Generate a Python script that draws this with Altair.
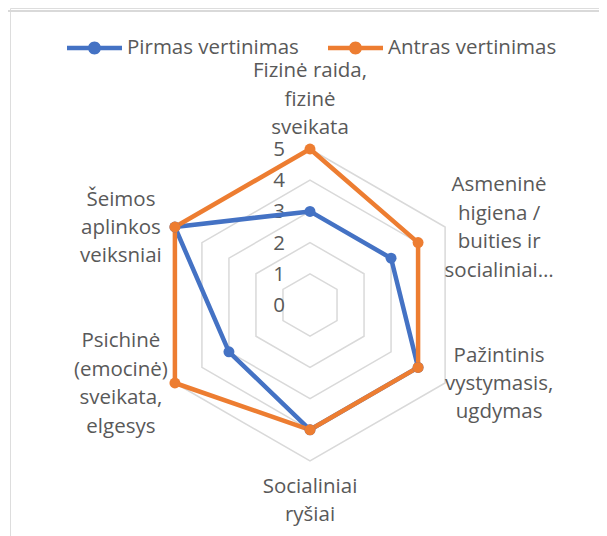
import altair as alt
import pandas as pd

# ---------------- data ----------------
categories = [
    "Fizinė raida,\nfizinė\nsveikata",
    "Asmeninė\nhigiena /\nbuities ir\nsocialiniai…",
    "Pažintinis\nvystymasis,\nugdymas",
    "Socialiniai\nryšiai",
    "Psichinė\n(emocinė)\nsveikata,\nelgesys",
    "Šeimos\naplinkos\nveiksniai",
]
series_names = ["Pirmas vertinimas", "Antras vertinimas"]
pirmas = [3, 3, 4, 4, 3, 5]
antras = [5, 4, 4, 4, 5, 5]
ticks = [0, 1, 2, 3, 4, 5]
colors = ["#4472C4", "#ED7D31"]

# ---------------- style / layout ----------------
FONT = "Open Sans"
FS = 20.5
LH = 28.4
TXT = "#595959"
GRID = "#D9D9D9"
W, H = 589, 528          # view size
CX, CY = 300, 297        # radar centre inside the view (px)
U = 31.2                 # px per value unit
RMAX = max(ticks)

x_dom = [-CX / U, (W - CX) / U]
y_dom = [-(H - CY) / U, CY / U]

n = len(categories)
rows = []
for s, vals in zip(series_names, [pirmas, antras]):
    for i, (c, v) in enumerate(zip(categories, vals)):
        rows.append({"series": s, "idx": i, "category": c, "value": v})
df = pd.DataFrame(rows)

grid_df = pd.DataFrame([{"level": lv, "idx": i} for lv in ticks if lv > 0 for i in range(n)])
lab_df = pd.DataFrame({"idx": list(range(n)), "label": categories})
tick_df = pd.DataFrame({"v": ticks, "t": [str(t) for t in ticks]})
frame_df = pd.DataFrame({"k": [0]})

xs = alt.Scale(domain=x_dom, nice=False, zero=False)
ys = alt.Scale(domain=y_dom, nice=False, zero=False)
X = alt.X("px:Q", scale=xs, axis=None)
Y = alt.Y("py:Q", scale=ys, axis=None)
ANG = f"datum.idx * 2 * PI / {n}"
NL = "(split(datum.label, '\\n').length - 1)"

# grid hexagons
grid = (
    alt.Chart(grid_df)
    .transform_calculate(px=f"datum.level * sin({ANG})", py=f"datum.level * cos({ANG})")
    .mark_line(interpolate="linear-closed", stroke=GRID, strokeWidth=1.5)
    .encode(x=X, y=Y, detail="level:N", order="idx:Q")
)

def series_line(name, color):
    return (
        alt.Chart(df)
        .transform_filter(alt.datum.series == name)
        .transform_calculate(px=f"datum.value * sin({ANG})", py=f"datum.value * cos({ANG})")
        .mark_line(interpolate="linear-closed", stroke=color, strokeWidth=4.5,
                   strokeJoin="round", strokeCap="round")
        .encode(x=X, y=Y, order="idx:Q")
    )

line_p = series_line(series_names[0], colors[0])
line_a = series_line(series_names[1], colors[1])

sym = ("M-1,-0.082 L1,-0.082 L1,0.082 L-1,0.082 Z "
       "M0.236,0 A0.236,0.236 0 1,1 -0.236,0 A0.236,0.236 0 1,1 0.236,0 Z")

points = (
    alt.Chart(df)
    .transform_calculate(px=f"datum.value * sin({ANG})", py=f"datum.value * cos({ANG})")
    .mark_circle(size=120, opacity=1)
    .encode(
        x=X, y=Y,
        color=alt.Color(
            "series:N",
            scale=alt.Scale(domain=series_names, range=colors),
            legend=alt.Legend(
                title=None, orient="none", direction="horizontal",
                legendX=57, legendY=12.5, padding=0,
                symbolType=sym, symbolSize=3025, symbolStrokeWidth=0,
                symbolOpacity=1,
                labelFont=FONT, labelFontSize=FS, labelColor=TXT,
                labelOffset=5, columnPadding=29, labelLimit=400,
            ),
        ),
    )
)

# category labels (first line baseline is placed; block shifted by its line count)
lab_base = alt.Chart(lab_df)
txt_kw = dict(align="center", baseline="alphabetic", lineBreak="\n", lineHeight=LH,
              font=FONT, fontSize=FS, color=TXT)
lab_top = (
    lab_base.transform_filter("datum.idx == 0")
    .transform_calculate(px="0", py=f"{RMAX} + (15 + {NL} * {LH}) / {U}")
    .mark_text(**txt_kw)
    .encode(x=X, y=Y, text="label:N")
)
lab_bot = (
    lab_base.transform_filter(f"datum.idx == {n // 2}")
    .transform_calculate(px="0", py=f"-({RMAX} + 32 / {U})")
    .mark_text(**txt_kw)
    .encode(x=X, y=Y, text="label:N")
)
lab_side = (
    lab_base.transform_filter(f"datum.idx != 0 && datum.idx != {n // 2}")
    .transform_calculate(
        px=f"{RMAX} * sin({ANG}) + (sin({ANG}) > 0 ? 1 : -1) * {54 / U}",
        py=f"{RMAX} * cos({ANG}) + ({NL} * {LH} / 2 - 7) / {U}",
    )
    .mark_text(**txt_kw)
    .encode(x=X, y=Y, text="label:N")
)

tick_lab = (
    alt.Chart(tick_df)
    .transform_calculate(px="0", py="datum.v")
    .mark_text(align="right", baseline="middle", dx=-25, dy=1,
               font=FONT, fontSize=FS, color=TXT)
    .encode(x=X, y=Y, text="t:N")
)

frame_v = alt.Chart(frame_df).mark_rule(color=GRID, strokeWidth=2).encode(
    x=alt.value(-3), y=alt.value(3), y2=alt.value(H + 20))
frame_h = alt.Chart(frame_df).mark_rule(color=GRID, strokeWidth=2).encode(
    y=alt.value(3), x=alt.value(-4), x2=alt.value(W + 20))

chart = (
    alt.layer(frame_v, frame_h, grid, tick_lab, line_p, line_a, points,
              lab_top, lab_bot, lab_side)
    .properties(width=W, height=H, autosize=alt.AutoSizeParams(type="none"),
                padding={"left": 2, "top": 0, "right": 0, "bottom": 0})
    .configure_view(stroke=None)
    .configure(background="white")
)

chart.save("out.html", embed_options={"renderer": "svg", "actions": False})
